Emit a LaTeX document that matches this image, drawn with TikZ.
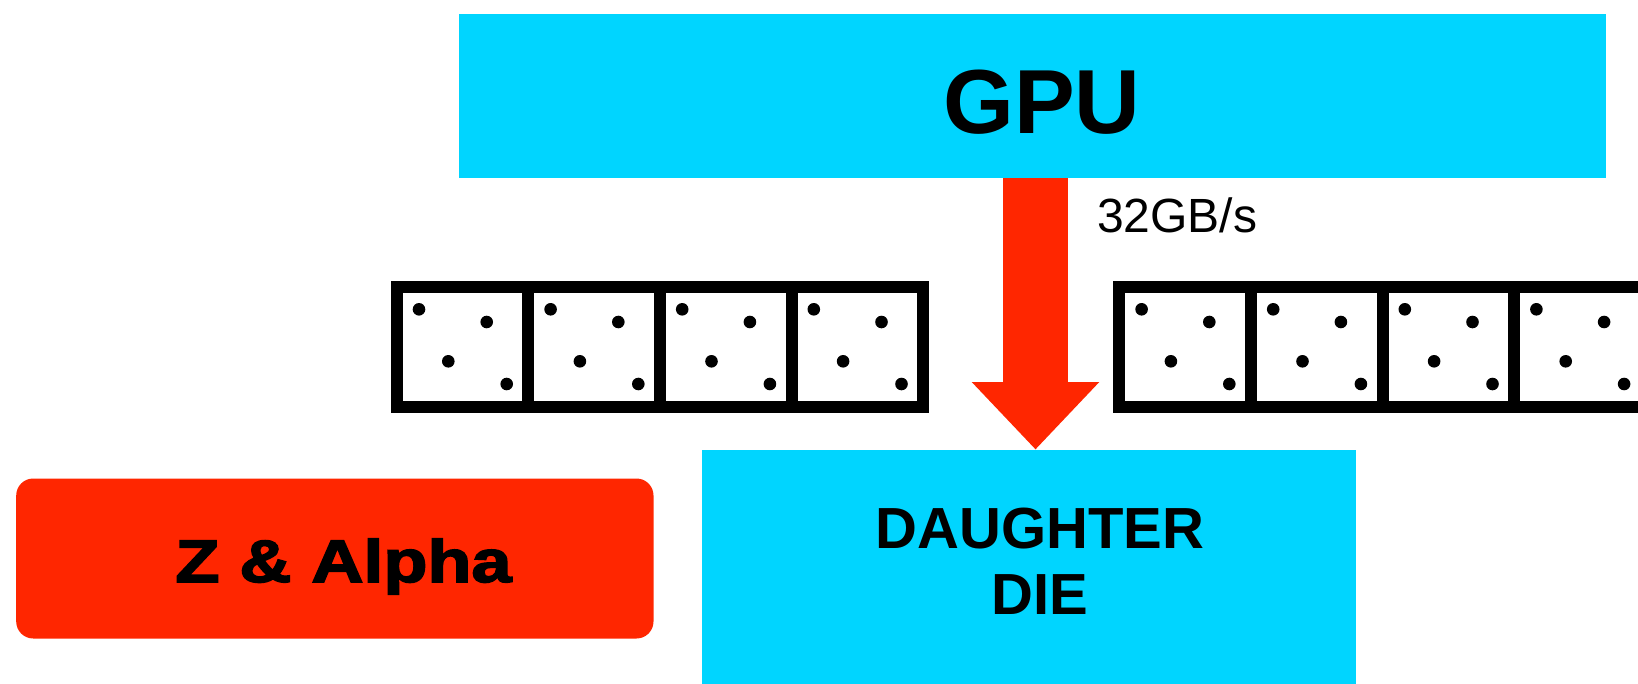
\documentclass[tikz,border=0pt]{standalone}
\usepackage{fontspec}
\setmainfont{Liberation Sans}
\newfontfamily\heavyfont[FakeBold=2.5]{Liberation Sans Bold}
\usetikzlibrary{arrows.meta}
\definecolor{chipcyan}{RGB}{0,213,255}
\definecolor{chipred}{RGB}{255,38,0}
\begin{document}
\begin{tikzpicture}[x=1pt, y=-1pt, line join=miter,
		diebox/.style={fill=chipcyan, inner sep=0pt, anchor=north west},
		cell/.style={draw=black, line width=12pt},
		flow/.style={chipred, line width=64.4pt, -{Triangle[width=127.6pt, length=67.3pt, line width=0pt]}}]
	\useasboundingbox (0,0) rectangle (1638,683);
	\clip (0,0) rectangle (1638,683);
	\path (1035.5,0) coordinate (F);
	\node[diebox, minimum width=1146.7pt, minimum height=164.4pt] (gpu) at (459,13.3) {};
	\node[diebox, minimum width=654pt, minimum height=240pt] (die) at (701.3,449.3) {};
	\node[fill=chipred, rounded corners=17pt, inner sep=0pt, anchor=north west,
		minimum width=637.3pt, minimum height=160pt] (za) at (16,478.3) {};
	% memory cells
	\foreach \x in {396.7,528.3,659.9,791.5,1119.3,1250.9,1382.5,1514.1}{
		\draw[cell] (\x,286.7) rectangle ++(131.6,120.6);
		\foreach \dx/\dy in {22.3/22.6,90/35.3,51.6/74.6,110/97.3}
		\fill (\x+\dx,286.7+\dy) circle (6.3);
	}
	\draw[flow] (gpu.south -| F) -- (die.north -| F);
	\node[anchor=base, inner sep=0pt, font=\bfseries\fontsize{91}{91}\selectfont] (gputxt) at (1042,133) {GPU};
	\node[anchor=base west, inner sep=0pt, font=\fontsize{48}{48}\selectfont] (rate) at (1097,232) {32GB/s};
	\node[anchor=base, inner sep=0pt, align=center, font=\bfseries\fontsize{58}{66}\selectfont] (dietxt) at (1040,614) {DAUGHTER\\DIE};
	\node[anchor=base, inner sep=0pt, font=\heavyfont\fontsize{60}{60}\selectfont] (zatxt) at (343.5,582) {\scalebox{1.2}[1]{Z \& Alpha}};
\end{tikzpicture}
\end{document}
